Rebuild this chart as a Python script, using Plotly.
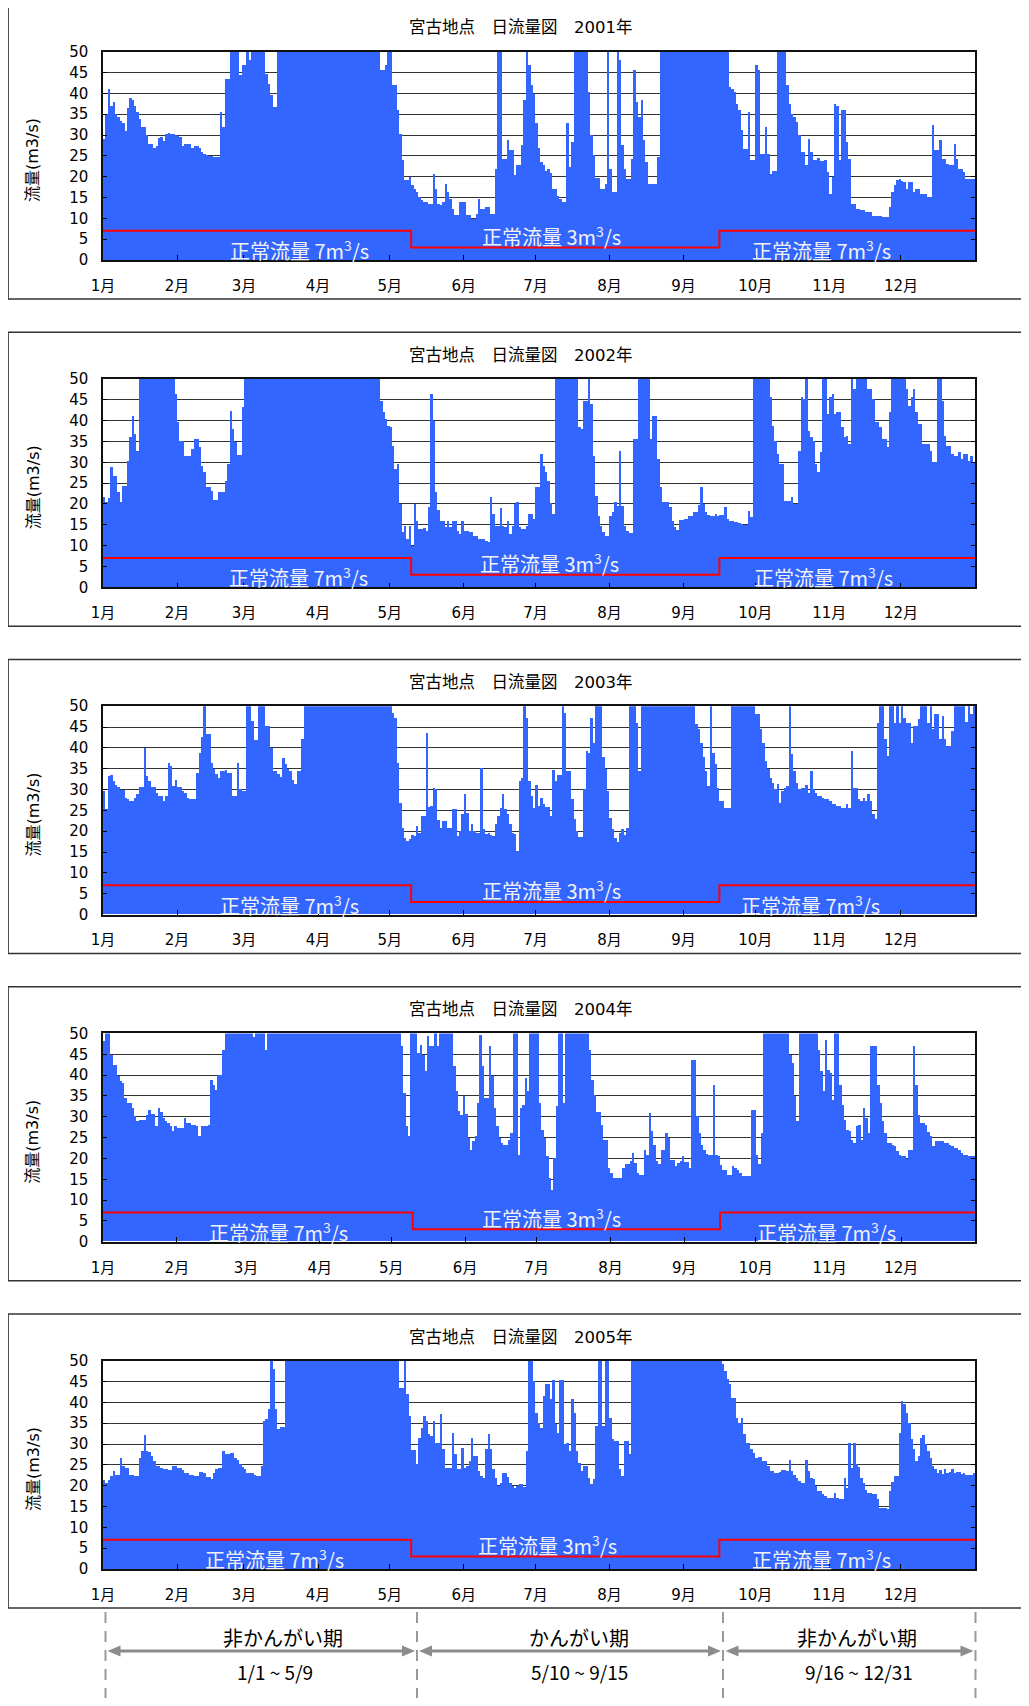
import pandas as pd
import plotly.graph_objects as go

# Target picture size; the page adds an 8px body margin around the figure,
# so the figure itself is drawn 16px smaller and all positions are shifted by 8px.
W, H = 1029, 1706
PAGE_MARGIN = 8
FW, FH = W - 2 * PAGE_MARGIN, H - 2 * PAGE_MARGIN

years = [2001, 2002, 2003, 2004, 2005]

# Daily discharge (m3/s); values above 50 are off-scale (clipped at 50).
flow_2001 = [
    # Jan
    29, 35, 41, 37, 38, 35, 34.5, 33.5, 33, 31, 36.5, 39, 38.5, 37, 35.5, 34, 32, 32, 30, 28,
    28, 27, 27.5, 29.3, 29.5, 28.7, 30.3, 30.6, 30.4, 30.2, 30,
    # Feb
    29.8, 29.5, 27.5, 28, 28, 28, 27, 27.5, 27.5, 27, 26, 25.5, 25.2, 25, 25, 24.8, 24.7, 24.7, 35.5, 32,
    43.5, 43.5, 60, 60, 60, 60, 44.5, 46.8,
    # Mar
    46.8, 60, 48, 60, 60, 60, 60, 60, 60, 44.8, 42.4, 39.6, 36.8, 36.8,
    60, 60, 60, 60, 60, 60, 60, 60, 60, 60,
    60, 60, 60, 60, 60, 60, 60,
    # Apr
    60, 60, 60, 60, 60, 60, 60, 60, 60, 60,
    60, 60, 60, 60, 60, 60, 60, 60, 60, 60,
    60, 60, 60, 60, 60, 60, 45.6, 45.6, 47, 60,
    # May
    60, 42, 42, 36, 30.4, 24, 19.2, 19.2, 20, 18, 17, 16.4, 15.2, 14.4, 14, 14, 13.6, 13.6, 20.8, 17.2,
    13.6, 13.2, 14, 18.2, 16.4, 14.8, 12.4, 10.8, 10.8, 14, 14,
    # Jun
    14, 10.8, 10.8, 10, 10, 11.2, 14.8, 12.4, 12.4, 12.8, 12.8, 11.2, 11.2, 22, 60, 60, 24.4, 24.4, 28.8, 26.4,
    26.4, 20.4, 22.8, 22.8, 27.6, 38.4, 60, 46.8, 42, 40,
    # Jul
    33, 27, 23.5, 22.8, 21.5, 21.8, 21, 17.2, 17.2, 15.5, 14.8, 14, 14, 33, 22.4, 28.4, 60, 60, 60, 60,
    60, 60, 40.4, 30, 25.2, 19.8, 19.8, 17.2, 17.2, 18.4, 60,
    # Aug
    22, 16.4, 16.4, 60, 48, 27.6, 22, 19.6, 19.6, 24.4, 45.8, 38, 34.4, 38.4, 28.8, 23.6, 18.4, 18.4, 18.4, 18.4,
    24.8, 60, 60, 60, 60, 60, 60, 60, 60, 60, 60,
    # Sep
    60, 60, 60, 60, 60, 60, 60, 60, 60, 60,
    60, 60, 60, 60, 60, 60, 60, 60, 60,
    41.6, 41, 40.4, 37.6, 36, 31.2, 26.8, 26.8, 35.6, 24, 24,
    # Oct
    46.8, 45.6, 25.6, 25.6, 32, 25.6, 20.8, 21.4, 21.4, 60, 60, 60, 60, 42, 37.6, 35, 34.4, 33.2, 30, 26,
    26, 22.8, 29.2, 26, 24, 24, 24.5, 23.8, 23.8, 24, 21.2,
    # Nov
    16, 20, 37.6, 37, 24, 36, 36, 28.4, 24.4, 13.6, 13.6, 12.4, 12.4, 12, 12, 11.6, 11.6, 11.6, 10.6, 10.6,
    10.6, 10.6, 10.4, 10.4, 10.4, 12.8, 16.4, 18, 19.2, 19.6,
    # Dec
    19, 18.8, 17.2, 18.8, 18.8, 16.4, 17.2, 17.2, 16, 16, 16, 15.2, 15.2, 32.4, 26.4, 26.4, 28.8, 24.4, 24.4, 23.2,
    22.8, 22.8, 28, 24.4, 22, 22, 21.2, 19.6, 19.6, 19.6, 19.6,
]

flow_2002 = [
    # Jan
    21.6, 20.4, 21.5, 28.8, 26.8, 26.8, 22.8, 20.4, 24.4, 24.4, 30.4, 36, 41.2, 36.8, 32.8,
    60, 60, 60, 60, 60, 60, 60, 60, 60, 60,
    60, 60, 60, 60, 60, 46.4,
    # Feb
    39.6, 35.2, 35, 31.6, 31.6, 31.6, 33.2, 35.6, 35.6, 33.6, 29.2, 27.6, 24, 24, 23.2, 21, 21, 22.8, 22.8, 22.8,
    25.6, 29.6, 42.2, 38, 34.8, 31.8, 31.8, 43.2,
    # Mar
    60, 60, 60, 60, 60, 60, 60, 60, 60, 60,
    60, 60, 60, 60, 60, 60, 60, 60, 60, 60,
    60, 60, 60, 60, 60, 60, 60, 60, 60, 60,
    60,
    # Apr
    60, 60, 60, 60, 60, 60, 60, 60, 60, 60,
    60, 60, 60, 60, 60, 60, 60, 60, 60, 60,
    60, 60, 60, 60, 60, 60, 44.8, 42, 40.4, 38.6,
    # May
    38.4, 34, 28.4, 29.6, 20, 13.2, 14.8, 11.6, 14.8, 10, 20, 16, 14, 14, 14.2, 13.6, 19.2, 46.4, 40, 22.8,
    18.6, 16, 16, 14.4, 15.8, 14.4, 16, 16, 13.6, 12.8, 16,
    # Jun
    13.6, 13.6, 13.2, 13.2, 12.4, 12.4, 11.6, 11.6, 11.6, 11.2, 10.8, 21.6, 17.6, 14.8, 14.8, 19, 14.8, 14.4, 16, 12.8,
    14.8, 20, 20.4, 14.4, 14, 14, 14.8, 17.6, 17.6, 16.4,
    # Jul
    24, 24, 32, 29.2, 27.6, 25.6, 20.2, 17.6,
    60, 60, 60, 60, 60, 60, 60, 60, 60, 60,
    38.4, 38, 44.8, 44.8, 60, 44, 31.6, 22, 17.2, 14.8, 13.2, 12.4, 12.4,
    # Aug
    17.2, 18, 20.4, 19.6, 32.8, 19.6, 14.8, 13.6, 13, 13, 35.6, 35.6, 60, 60, 60, 60, 60, 35.6, 41.2, 41.2,
    30.8, 24, 20.4, 20.4, 20.4, 19.2, 16, 14.4, 13.8, 16.2, 16.2,
    # Sep
    16.4, 16.4, 17.2, 17.2, 18, 18, 19.8, 24, 20, 18, 17.4, 17.2, 17.2, 17.6, 17, 17.4, 17.4, 19.2, 16.4, 16,
    16, 15.6, 15.6, 15.4, 15.2, 15, 15, 18.4, 16.8, 60,
    # Oct
    60, 60, 60, 60, 60, 60, 45.6, 38.8, 35, 32, 29.6, 29.6, 20.6, 20.6, 20.6, 21.6, 20, 20, 32.8, 45.6,
    45.2, 60, 37.6, 36, 35.2, 29.6, 27.6, 32.4, 60, 60, 41.6,
    # Nov
    45.6, 46.4, 41.6, 42, 42, 38.4, 36, 36.4, 34.4, 60, 47.6, 60, 60, 60, 60, 60, 47.6, 47.6, 45.2, 39.6,
    39.6, 38.4, 35.6, 35.6, 33.6, 42, 60, 60, 60, 60,
    # Dec
    60, 60, 47.6, 43.6, 45.6, 47.6, 42, 39.2, 39.2, 34.4, 34.4, 34.4, 32.8, 30, 30, 60, 60, 44.8, 36.4, 34,
    34, 32, 31.6, 31.6, 32.4, 30.8, 32, 32, 30.4, 31.6, 30,
]

flow_2003 = [
    # Jan
    29.6, 25.2, 33.2, 33.4, 32, 31, 30.5, 29.8, 29.8, 27.8, 27.6, 27.2, 27.2, 28, 28.8, 30.6, 30.6, 40, 33.2, 32,
    30.6, 30.6, 29.2, 28.4, 28.4, 27.2, 28.4, 36.2, 35.6, 30.8, 32.2,
    # Feb
    30.6, 30.6, 29.6, 29, 27.8, 27.6, 27.6, 27.6, 34, 38.8, 42.6, 60, 43.2, 43.2, 36.4, 34.8, 33.6, 32.8, 34.4, 34.4,
    34.6, 34, 33.8, 28.4, 28.4, 36.4, 30, 29.6,
    # Mar
    29.6, 60, 60, 46.4, 41.8, 41.8, 60, 60, 60, 45.2, 45.2, 40, 34.4, 34.4, 33.6, 33, 37.4, 36, 34.8, 34.4,
    32.2, 31.2, 34.4, 34.4, 42, 60, 60, 60, 60, 60, 60,
    # Apr
    60, 60, 60, 60, 60, 60, 60, 60, 60, 60,
    60, 60, 60, 60, 60, 60, 60, 60, 60, 60,
    60, 60, 60, 60, 60, 60, 60, 60, 60, 60,
    # May
    60, 48.4, 47.2, 36.4, 26.8, 20.8, 18.2, 17.6, 18, 19, 18.8, 21.2, 19.6, 23.6, 23.6, 43.6, 25.8, 26, 30.4, 30,
    22.6, 20.6, 22.4, 22.4, 20.6, 20.6, 25.2, 25.2, 18.8, 20, 24,
    # Jun
    28.8, 24.4, 20, 21.6, 20, 19.4, 19.4, 35.2, 20.4, 19.2, 19.6, 19, 18.8, 21.6, 23.6, 25.6, 28.8, 25.2, 24, 21.6,
    19.6, 19.2, 15.2, 32, 32.6, 60, 47.2, 32, 28.4, 25.6,
    # Jul
    31, 26, 27.8, 26.4, 25.8, 25.8, 23.6, 34.6, 32, 33.4, 33.4, 60, 48.4, 34.4, 34.4, 27.6, 22.8, 20, 18.6, 18.6,
    30, 39.2, 38.8, 47.2, 41.2, 60, 60, 60, 37.8, 34.8, 29.6,
    # Aug
    23.2, 20.4, 18.4, 17.4, 19.6, 20.4, 19, 20.6, 60, 60, 60, 46, 34.4,
    60, 60, 60, 60, 60, 60, 60, 60, 60, 60,
    60, 60, 60, 60, 60, 60, 60, 60,
    # Sep
    60, 60, 60, 60, 60,
    45.6, 44.4, 41.2, 37.8, 34.4, 30.8, 60, 38.8, 36, 30.4, 27.2, 27.2, 25.6, 25.6, 25.6, 60,
    60, 60, 60, 60, 60, 60, 60, 60, 60,
    # Oct
    48, 48, 44.4, 41.2, 36.8, 34.8, 32.8, 31.6, 30, 31.2, 26.8, 29.6, 30.4, 30.8, 60, 38.4, 34.4, 31.6, 30, 30.4,
    30.4, 31, 29.2, 34.4, 30, 29.2, 28.4, 28.4, 28, 27.6, 27.6,
    # Nov
    27.2, 26.4, 26.4, 26, 26, 25.6, 25.6, 26.4, 25.6, 39.2, 30.4, 30.4, 27.6, 27.2, 28, 27.2, 28.8, 27.2, 24, 22.8,
    46, 60, 60, 42, 38, 60, 60, 46, 60, 46,
    # Dec
    60, 47.2, 46, 46, 41.2, 45.2, 45.2, 46.8, 60, 60, 60, 46, 60, 44.4, 48, 48, 42, 47.6, 42, 40.4,
    40.4, 44, 60, 60, 60, 60, 60, 46.2, 60, 48, 60,
]

flow_2004 = [
    # Jan
    48, 60, 60, 44.8, 42.4, 42.2, 39.6, 38.4, 38, 34.5, 33.2, 33.2, 32, 30, 28.8, 29, 29, 29, 30.4, 31.4,
    30.6, 30.6, 27.6, 32, 31, 29.6, 28.8, 28.4, 27.6, 26.4, 27.6,
    # Feb (leap year)
    27.2, 27.2, 27.2, 29.6, 28.4, 28.4, 27.8, 27.8, 27.6, 25.2, 27.6, 27.6, 27.6, 28, 38.8, 37.6, 36.4, 40, 40, 46,
    60, 60, 60, 60, 60, 60, 60, 60, 60,
    # Mar
    60, 60, 60, 49, 60, 60, 60, 60, 46,
    60, 60, 60, 60, 60, 60, 60, 60, 60, 60,
    60, 60, 60, 60, 60, 60, 60, 60, 60, 60,
    60, 60,
    # Apr
    60, 60, 60, 60, 60, 60, 60, 60, 60, 60,
    60, 60, 60, 60, 60, 60, 60, 60, 60, 60,
    60, 60, 60, 60, 60, 60, 60, 60, 60, 60,
    # May
    60, 60, 60, 60,
    46.8, 35.6, 27.6, 25.2, 60, 60, 60, 45.2, 47.2, 44.8, 40.8, 49.2, 46.8, 46.8, 60, 46.8,
    60, 60, 60, 60, 60, 60,
    42, 36, 31.2, 30.4, 34.8,
    # Jun
    30.6, 24.8, 22, 24, 25.2, 33.2, 49.6, 42, 34.4, 34.4, 47, 39.6, 32, 27.6, 24.8, 23.6, 23, 23, 24.4, 26,
    60, 60, 20.8, 32, 32.8, 39.2, 36, 60, 60, 60,
    # Jul
    60, 33.2, 26.8, 24.8, 20.4, 15.2, 12.4, 20, 32.4, 60, 60, 33.2,
    60, 60, 60, 60, 60, 60, 60, 60, 60, 60,
    46, 38.8, 35, 31, 31, 28, 24.4, 24.4, 17.6,
    # Aug
    16.4, 15.2, 15.2, 15.2, 15.2, 17.6, 18.6, 18.6, 19.2, 21.2, 18.8, 16.4, 15.8, 15.8, 22, 20.8, 30.8, 26.4, 23.2, 19.2,
    18.6, 22, 22, 26, 24.8, 19.6, 19.6, 18, 18.8, 19.2, 20.4,
    # Sep
    19, 19, 17.6, 43.6, 43.6, 30, 26, 23.2, 21.8, 21, 20.8, 20.8, 37.4, 20.8, 20.4, 18.4, 17.2, 17.2, 16, 16,
    18, 17.6, 17, 16.4, 15.6, 15.6, 15.6, 15.6, 31.4, 31.4,
    # Oct
    20.8, 18.6, 26,
    60, 60, 60, 60, 60, 60, 60, 60, 60, 60, 60,
    44.8, 42.8, 34.8, 28.8,
    60, 60, 60, 60, 60, 60, 60, 60,
    46, 40.8, 36, 48.4, 41.2,
    # Nov
    40.4, 34, 60, 60, 37.4, 32.8, 29.2, 26.8, 26.4, 24.4, 23.6, 27.6, 27.8, 24.4, 32, 29.6, 26, 47, 47, 47,
    37.6, 33.2, 28.8, 26, 23.6, 23.6, 23.2, 22.8, 21.6, 20.8,
    # Dec
    20.4, 20.4, 19.8, 21.8, 21.8, 47, 37.6, 30.4, 28.4, 28.4, 28, 26.2, 25.2, 22.8, 24, 24, 24, 24, 23.6, 23.6,
    23.2, 22.8, 22.4, 22.4, 21.8, 21.2, 20.8, 20.8, 20.4, 20.4, 20.4,
]

flow_2005 = [
    # Jan
    21.5, 20.8, 21.5, 22.4, 23.6, 22.6, 22.6, 26.6, 24.8, 24.2, 24.2, 22.6, 22.6, 22.4, 22.4, 26.6, 28.4, 32.2, 28.4, 28.2,
    27.2, 26, 24.8, 24.8, 24.2, 24, 24, 23.8, 23.8, 24.8, 24.8,
    # Feb
    24.4, 24.4, 23.8, 23, 23, 22.6, 22.6, 22.4, 22.4, 23.4, 23.4, 23, 22.2, 22.2, 21.6, 23.2, 24, 24.2, 24.4, 28.4,
    27.6, 27.6, 27.8, 27.8, 26.8, 26.2, 25.2, 24.5,
    # Mar
    24, 23.2, 23.2, 23, 22.6, 22.4, 22.4, 24.8, 35.6, 36, 38.4, 60, 48, 38.4, 33.6, 34.2, 34.2,
    60, 60, 60, 60, 60, 60, 60, 60, 60, 60,
    60, 60, 60, 60,
    # Apr
    60, 60, 60, 60, 60, 60, 60, 60, 60, 60,
    60, 60, 60, 60, 60, 60, 60, 60, 60, 60,
    60, 60, 60, 60, 60, 60, 60, 60, 60, 60,
    # May
    60, 60, 60, 60, 43.6, 43.6, 60, 42, 36.8, 28.6, 28.6, 25.2, 31.6, 34, 36.8, 35.6, 32.4, 32, 35.6, 30.4,
    30.4, 37.2, 28.8, 24.4, 24.4, 24.4, 32.8, 27.6, 24, 24, 29.2,
    # Jun
    24.4, 24.8, 26, 31.6, 27.2, 27.2, 23.6, 22.4, 22, 28.8, 32.4, 28.8, 24, 22, 20, 20.8, 23, 23, 22.2, 20.8,
    20, 19.6, 20, 20.4, 20.4, 19.8, 28.4, 60, 60, 45.2,
    # Jul
    37.5, 35, 34, 41.6, 44.4, 44.6, 40.8, 45.4, 34.8, 32.6, 45.4, 45.4, 30, 30.2, 28.4, 40.8, 37.6, 28.4, 25.6, 23.6,
    24.8, 24.8, 21.8, 20.4, 21.6, 34.4, 60, 60, 34.4, 60, 60,
    # Aug
    36.4, 31.2, 30.8, 30.8, 24, 22.4, 30.8, 30.8, 27.6,
    60, 60, 60, 60, 60, 60, 60, 60, 60, 60,
    60, 60, 60, 60, 60, 60, 60, 60, 60, 60,
    60, 60,
    # Sep
    60, 60, 60, 60, 60, 60, 60, 60, 60, 60,
    60, 60, 60, 60, 60, 60,
    49.2, 47.6, 45.6, 44.6, 41.2, 41.2, 36.4, 35.2, 36.4, 32.4, 30.4, 30.4, 28.8, 27.8,
    # Oct
    26.8, 27, 27, 26, 26, 24.8, 23.6, 23.6, 23.2, 23.2, 23.4, 23.8, 23.8, 23.6, 26.2, 23.6, 22.6, 22, 21.2, 20.8,
    20.8, 26.2, 23.6, 21.8, 21.6, 20, 18.8, 18.8, 18, 17.6, 17.2,
    # Nov
    17, 17, 18.2, 17.2, 16.8, 16.8, 21.8, 19.6, 30.4, 24.4, 30.4, 25.2, 24.6, 22, 20.8, 19, 18.4, 18.4, 18, 18,
    16.8, 14.8, 14.8, 14.8, 14.4, 18.8, 21, 22.4, 22.4, 32.8,
    # Dec
    40.4, 39.6, 37.6, 35, 31.2, 28.8, 26, 27.2, 31.6, 32.2, 30, 28.4, 26.8, 24.8, 24, 23.2, 23.8, 22.8, 24, 23.2,
    23.4, 24, 23.2, 23.4, 23.4, 22.8, 23.2, 22.6, 22.6, 22.6, 23.2,
]

month_labels = ["1月", "2月", "3月", "4月", "5月", "6月", "7月", "8月", "9月", "10月", "11月", "12月"]
y_ticks = [0, 5, 10, 15, 20, 25, 30, 35, 40, 45, 50]
normal_flow = [7, 3, 7]                      # m3/s for each period
period_starts = ["01-01", "05-10", "09-16"]  # month-day each period starts
period_names = ["非かんがい期", "かんがい期", "非かんがい期"]
period_spans = ["1/1 ~ 5/9", "5/10 ~ 9/15", "9/16 ~ 12/31"]

flows = [flow_2001, flow_2002, flow_2003, flow_2004, flow_2005]
for yr, f in zip(years, flows):
    n = len(pd.date_range(f"{yr}-01-01", f"{yr}-12-31", freq="D"))
    assert len(f) == n, (yr, len(f), n)

# ---------------- layout geometry (pixels in the final picture) ----------------
STEP = 327.25
PLOT_TOP, PLOT_BOT = 51.7, 260.0
PLOT_L, PLOT_R = 103.0, 975.0
BAR_COLOR = "#3366FF"
CJK = "Noto Sans CJK JP"
LAT = "DejaVu Sans, Noto Sans CJK JP"


def px(x):
    return (x - PAGE_MARGIN) / FW


def py(y):
    return 1 - (y - PAGE_MARGIN) / FH


label_left_x = [299, 298, 289, 278, 274]
label_mid_x = [551, 549, 551, 551, 547]
label_right_x = [821, 823, 810, 826, 821]

fig = go.Figure()
layout = dict(
    width=FW, height=FH, margin=dict(l=0, r=0, t=0, b=0, pad=0), autosize=False,
    paper_bgcolor="white", plot_bgcolor="white", showlegend=False,
    bargap=0, barmode="overlay",
)
annotations = []
shapes = []


def hline(x0, x1, y, color, width):
    return dict(type="line", xref="paper", yref="paper", x0=px(x0), x1=px(x1),
                y0=py(y), y1=py(y), line=dict(color=color, width=width))


for i, (yr, vals) in enumerate(zip(years, flows)):
    sfx = "" if i == 0 else str(i + 1)
    xa, ya = "x" + sfx, "y" + sfx
    top = PLOT_TOP + STEP * i
    bot = PLOT_BOT + STEP * i
    dates = pd.date_range(f"{yr}-01-01", periods=len(vals), freq="D") + pd.Timedelta(hours=12)
    fig.add_trace(go.Bar(
        x=dates, y=vals, xaxis=xa, yaxis=ya, width=86400000,
        marker=dict(color=BAR_COLOR, line=dict(width=0)), hoverinfo="skip",
    ))
    # normal-flow step line
    lx = [f"{yr}-{s}" for s in period_starts] + [f"{yr + 1}-01-01"]
    ly = normal_flow + [normal_flow[-1]]
    fig.add_trace(go.Scatter(
        x=lx, y=ly, xaxis=xa, yaxis=ya, mode="lines",
        line=dict(color="#FF0000", width=2, shape="hv"), hoverinfo="skip",
    ))

    layout["xaxis" + sfx] = dict(
        domain=[px(PLOT_L), px(PLOT_R)], anchor=ya, type="date",
        range=[f"{yr}-01-01", f"{yr + 1}-01-01"],
        tickmode="array", tickvals=[f"{yr}-{m:02d}-01" for m in range(1, 13)], ticktext=month_labels,
        ticks="inside", ticklen=5, tickwidth=1, tickcolor="#000",
        showline=True, mirror=True, linecolor="#111", linewidth=1.5,
        showgrid=False, zeroline=False, fixedrange=True, automargin=False,
        tickfont=dict(family=LAT, size=15, color="#000"), ticklabelstandoff=11,
    )
    layout["yaxis" + sfx] = dict(
        domain=[py(bot), py(top)], anchor=xa, range=[0, 50],
        tickmode="array", tickvals=y_ticks,
        ticks="inside", ticklen=4, tickwidth=1, tickcolor="#000",
        showline=True, mirror="ticks", linecolor="#111", linewidth=1.5,
        showgrid=True, gridcolor="#333", gridwidth=1, zeroline=False, fixedrange=True, automargin=False,
        tickfont=dict(family=LAT, size=15, color="#000"), ticklabelstandoff=10,
    )

    # panel frame (open on the right: it runs off the page)
    fy0, fy1 = 5 + STEP * i, 299 + STEP * i
    shapes.append(hline(7.5, W - PAGE_MARGIN, fy0, "#333", 1.3))
    shapes.append(hline(7.5, W - PAGE_MARGIN, fy1, "#333", 1.3))
    shapes.append(dict(type="line", xref="paper", yref="paper", x0=px(8.2), x1=px(8.2),
                       y0=py(fy0), y1=py(fy1), line=dict(color="#333", width=1.3)))
    # title
    annotations.append(dict(text=f"宮古地点　日流量図　{yr}年", xref="paper", yref="paper",
                            x=px(521), y=py(28 + STEP * i), xanchor="center", yanchor="middle",
                            showarrow=False, font=dict(family=LAT, size=16.5, color="#000")))
    # y-axis title
    annotations.append(dict(text="流量(m3/s)", xref="paper", yref="paper", textangle=-90,
                            x=px(33), y=py(160 + STEP * i), xanchor="center", yanchor="middle",
                            showarrow=False, font=dict(family=LAT, size=16, color="#000")))
    # normal-flow labels
    for lxp, off, v in zip([label_left_x[i], label_mid_x[i], label_right_x[i]], [10, 24, 10], normal_flow):
        annotations.append(dict(text=f"正常流量 {v}m<sup>3</sup>/s", xref="paper", yref="paper",
                                x=px(lxp), y=py(bot - off), xanchor="center", yanchor="middle",
                                showarrow=False, font=dict(family=CJK, size=20, color="#F2F2F2")))

# ---------------- bottom period legend ----------------
GRAY = "#8C8C8C"
dash_x = [105.5, 417, 723, 975.5]
for x in dash_x:
    shapes.append(dict(type="line", xref="paper", yref="paper", x0=px(x), x1=px(x),
                       y0=py(1612), y1=py(H - PAGE_MARGIN), line=dict(color="#9A9A9A", width=2, dash="11px,8px")))

arrow_y = 1651
arrow_spans = [(107.5, 415), (419, 721), (725.5, 973.5)]
HL, HW = 13, 5.5
for (a, b) in arrow_spans:
    shapes.append(hline(a + HL - 2, b - HL + 2, arrow_y, GRAY, 3))
    left = f"M {px(a)},{py(arrow_y)} L {px(a + HL)},{py(arrow_y - HW)} L {px(a + HL)},{py(arrow_y + HW)} Z"
    right = f"M {px(b)},{py(arrow_y)} L {px(b - HL)},{py(arrow_y - HW)} L {px(b - HL)},{py(arrow_y + HW)} Z"
    for p in (left, right):
        shapes.append(dict(type="path", xref="paper", yref="paper", path=p,
                           fillcolor=GRAY, line=dict(color=GRAY, width=0)))

name_x = [283, 579, 857]
span_x = [275, 579, 859]
for nx, sx, nm, sp in zip(name_x, span_x, period_names, period_spans):
    annotations.append(dict(text=nm, xref="paper", yref="paper", x=px(nx), y=py(1637),
                            xanchor="center", yanchor="middle", showarrow=False,
                            font=dict(family=CJK, size=20, color="#000")))
    annotations.append(dict(text=sp, xref="paper", yref="paper", x=px(sx), y=py(1671),
                            xanchor="center", yanchor="middle", showarrow=False,
                            font=dict(family=CJK, size=19, color="#000")))

layout["annotations"] = annotations
layout["shapes"] = shapes
fig.update_layout(**layout)

fig.write_html("out.html", config={"displayModeBar": False})
